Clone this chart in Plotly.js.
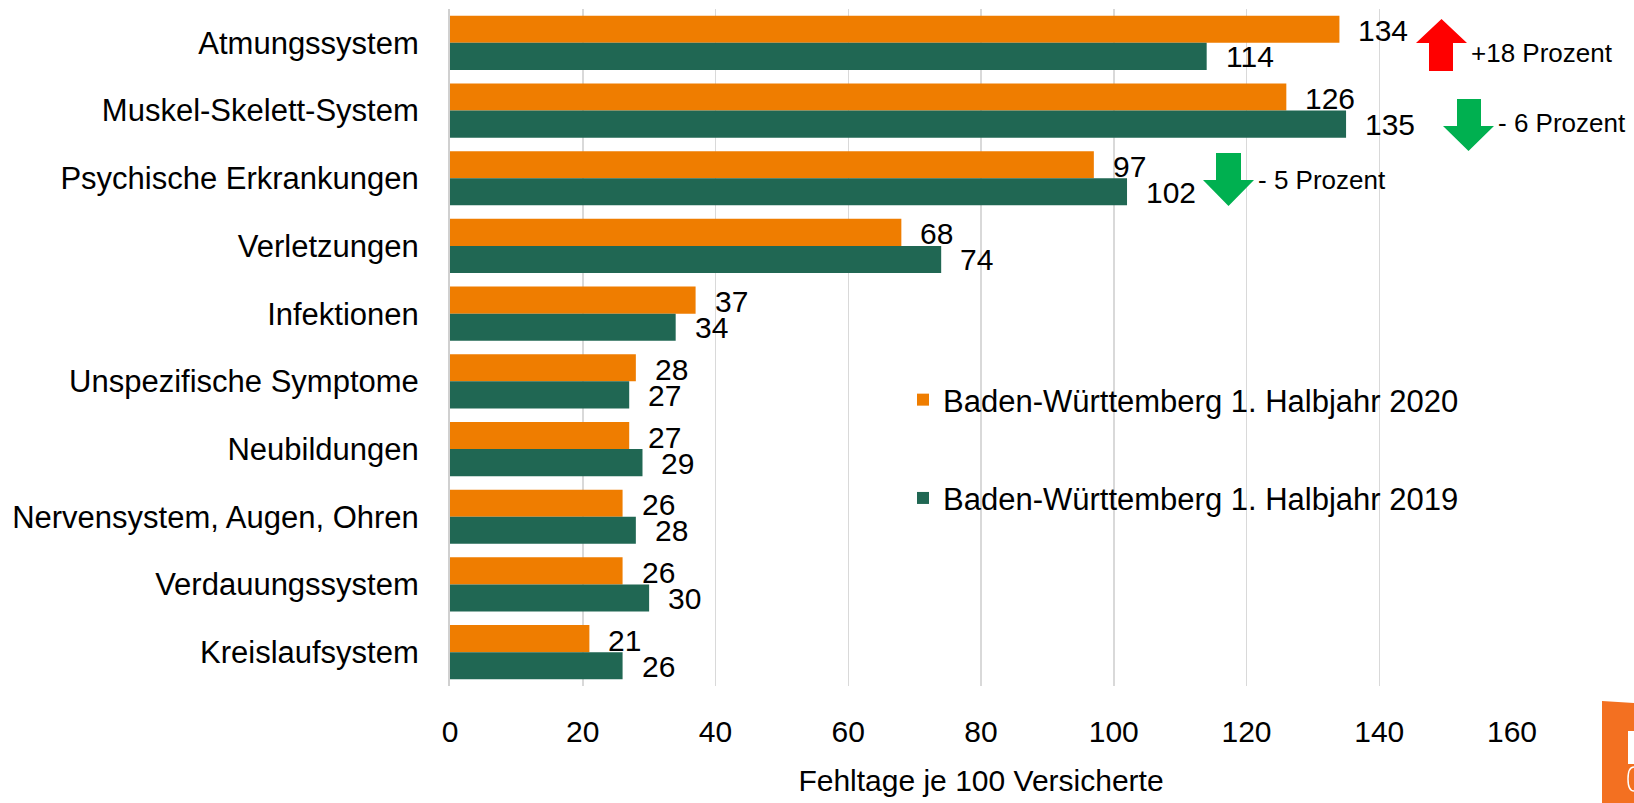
<!DOCTYPE html>
<html>
<head>
<meta charset="utf-8">
<script src="https://cdn.plot.ly/plotly-3.0.1.min.js"></script>
<style>html,body{margin:0;padding:0;background:#fff;}#chart{width:1634px;height:803px;}</style>
</head>
<body>
<div id="chart"></div>
<script>
const categories = ["Atmungssystem","Muskel-Skelett-System","Psychische Erkrankungen","Verletzungen","Infektionen","Unspezifische Symptome","Neubildungen","Nervensystem, Augen, Ohren","Verdauungssystem","Kreislaufsystem"];
const values2020 = [134,126,97,68,37,28,27,26,26,21];
const values2019 = [114,135,102,74,34,27,29,28,30,26];
const seriesNames = ["Baden-Württemberg 1. Halbjahr 2020","Baden-Württemberg 1. Halbjahr 2019"];
const changeLabels = ["+18 Prozent","- 6 Prozent","- 5 Prozent"];
const xTicks = [0,20,40,60,80,100,120,140,160];
const xTitle = "Fehltage je 100 Versicherte";

const FONT = "Liberation Sans Narrow, Arial Narrow, Liberation Sans, Arial, sans-serif";
const ORANGE = "#EF7D00";
const GREEN = "#206753";

// pixel -> paper helpers (plot area 450..1512 x 9..686)
const L = 450, R = 1512, T = 9, B = 686;
const px = x => (x - L) / (R - L);
const py = y => (B - y) / (B - T);
function poly(pts){ return "M" + pts.map(p => px(p[0]).toFixed(5) + "," + py(p[1]).toFixed(5)).join(" L") + " Z"; }

const traces = [
  {type:"bar", orientation:"h", name:seriesNames[0], y:categories, x:values2020, marker:{color:ORANGE}, legendgroup:"a", hoverinfo:"x"},
  {type:"bar", orientation:"h", name:seriesNames[1], y:categories, x:values2019, marker:{color:GREEN}, legendgroup:"b", hoverinfo:"x"}
];

const annotations = [];
categories.forEach((c,i) => {
  annotations.push({x:values2020[i], y:c, xref:"x", yref:"y", text:String(values2020[i]), showarrow:false, xanchor:"left", yanchor:"middle", xshift:17, yshift:12, font:{family:FONT,size:30,color:"#000"}});
  annotations.push({x:values2019[i], y:c, xref:"x", yref:"y", text:String(values2019[i]), showarrow:false, xanchor:"left", yanchor:"middle", xshift:17, yshift:-14, font:{family:FONT,size:30,color:"#000"}});
});
const changePos = [[1469,53],[1496,123],[1256,180]];
changeLabels.forEach((t,i) => {
  annotations.push({x:px(changePos[i][0]), y:py(changePos[i][1]), xref:"paper", yref:"paper", text:t, showarrow:false, xanchor:"left", yanchor:"middle", font:{family:FONT,size:26,color:"#000"}});
});

const shapes = [
  // red up arrow
  {type:"path", xref:"paper", yref:"paper", path:poly([[1441.5,19],[1467,43],[1453,43],[1453,71],[1429,71],[1429,43],[1416,43]]), fillcolor:"#FF0000", line:{width:0}},
  // green down arrows
  {type:"path", xref:"paper", yref:"paper", path:poly([[1457,99],[1481,99],[1481,126],[1494,126],[1468.5,151],[1443,126],[1457,126]]), fillcolor:"#00B050", line:{width:0}},
  {type:"path", xref:"paper", yref:"paper", path:poly([[1216,153],[1241,153],[1241,180],[1254,180],[1228.5,206],[1203,180],[1216,180]]), fillcolor:"#00B050", line:{width:0}},
  // logo fragment bottom right
  {type:"path", xref:"paper", yref:"paper", path:poly([[1602,701],[1634,703],[1634,803],[1602,803]]), fillcolor:"#F37021", line:{width:0}},
  {type:"path", xref:"paper", yref:"paper", path:poly([[1628,731],[1634,731],[1634,764],[1628,764]]), fillcolor:"#FFFFFF", line:{width:0}},
  {type:"path", xref:"paper", yref:"paper", path:"M"+px(1634)+","+py(767)+" Q"+px(1628)+","+py(767)+" "+px(1628)+","+py(779)+" Q"+px(1628)+","+py(791)+" "+px(1634)+","+py(791), line:{color:"#FFFFFF", width:1.5}}
];

const layout = {
  width:1634, height:803,
  margin:{l:L, r:1634-R, t:T, b:803-B, pad:0},
  paper_bgcolor:"#fff", plot_bgcolor:"#fff",
  barmode:"group", bargap:0.2, bargroupgap:0,
  font:{family:FONT, size:30, color:"#000"},
  xaxis:{range:[0,160], tickvals:xTicks, ticktext:xTicks.map(String), showgrid:true, gridcolor:"#D9D9D9", gridwidth:1.5,
         zeroline:false, showline:false, ticks:"", ticklabelstandoff:25, tickfont:{family:FONT,size:30,color:"#000"},
         title:{text:xTitle, font:{family:FONT,size:30,color:"#000"}, standoff:22}, automargin:false, fixedrange:true},
  yaxis:{type:"category", autorange:"reversed", showgrid:false, zeroline:false, showline:true, linecolor:"#D0D0D0", linewidth:2,
         ticks:"", ticklabelstandoff:23, tickfont:{family:FONT,size:31,color:"#000"}, automargin:false, fixedrange:true},
  legend:{x:px(903), y:py(373), xanchor:"left", yanchor:"top", traceorder:"grouped", tracegroupgap:55,
          font:{family:FONT,size:31,color:"#000"}, bgcolor:"rgba(0,0,0,0)", borderwidth:0},
  showlegend:true,
  annotations:annotations,
  shapes:shapes
};

Plotly.newPlot("chart", traces, layout, {displayModeBar:false, staticPlot:true});
</script>
</body>
</html>
